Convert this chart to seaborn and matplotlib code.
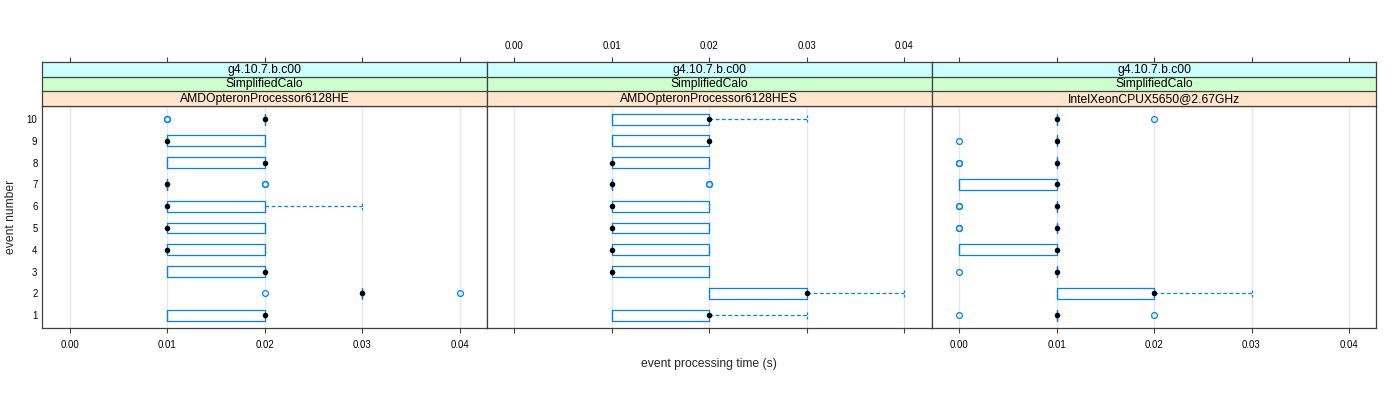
import numpy as np
import pandas as pd
import matplotlib
matplotlib.use("Agg")
import matplotlib.pyplot as plt
import seaborn as sns

# ---------------- data ----------------
times = [0.00, 0.01, 0.02, 0.03, 0.04]          # measured time bins (s)
events = [1, 2, 3, 4, 5, 6, 7, 8, 9, 10]
version = "g4.10.7.b.c00"
application = "SimplifiedCalo"
cpus = ["AMDOpteronProcessor6128HE", "AMDOpteronProcessor6128HES",
        "IntelXeonCPUX5650@2.67GHz"]

# number of repetitions per time bin, rows = event 1..10
counts_he = [
    [0, 3, 6, 0, 0],
    [0, 0, 1, 7, 1],
    [0, 3, 6, 0, 0],
    [0, 5, 4, 0, 0],
    [0, 5, 4, 0, 0],
    [0, 5, 3, 1, 0],
    [0, 7, 2, 0, 0],
    [0, 3, 6, 0, 0],
    [0, 5, 4, 0, 0],
    [0, 2, 7, 0, 0],
]
counts_hes = [
    [0, 3, 5, 1, 0],
    [0, 0, 3, 5, 1],
    [0, 5, 4, 0, 0],
    [0, 5, 4, 0, 0],
    [0, 5, 4, 0, 0],
    [0, 5, 4, 0, 0],
    [0, 7, 2, 0, 0],
    [0, 5, 4, 0, 0],
    [0, 3, 6, 0, 0],
    [0, 3, 5, 1, 0],
]
counts_intel = [
    [1, 7, 1, 0, 0],
    [0, 3, 5, 1, 0],
    [1, 8, 0, 0, 0],
    [3, 6, 0, 0, 0],
    [2, 7, 0, 0, 0],
    [2, 7, 0, 0, 0],
    [3, 6, 0, 0, 0],
    [2, 7, 0, 0, 0],
    [1, 8, 0, 0, 0],
    [0, 8, 1, 0, 0],
]
x_ticks = [0.00, 0.01, 0.02, 0.03, 0.04]
x_tick_labels = ["0.00", "0.01", "0.02", "0.03", "0.04"]

# ---------------- build long table ----------------
rows = []
for cpu, counts in zip(cpus, [counts_he, counts_hes, counts_intel]):
    for ev, c in zip(events, counts):
        for t in np.repeat(times, c):
            rows.append({"cpu": cpu, "event": str(ev), "time": float(t)})
df = pd.DataFrame(rows)

# ---------------- style ----------------
sns.set_theme(style="white")
plt.rcParams["font.family"] = ["Liberation Sans", "DejaVu Sans"]

BLUE = "#0080ff"
EDGE = "#404040"
STRIP_COLS = ["#ffe5cc", "#ccffcc", "#ccffff"]
LAB_FS = 8.7
TICK_FS = 6.9

W, H = 1400, 400
fig = plt.figure(figsize=(14, 4), dpi=100)
edges = [42.3, 487.0, 931.7, 1376.3]
p_top, p_bot = 106.0, 328.3
s_top = 62.3
order = [str(e) for e in events[::-1]]
xlim = (-0.0028, 0.0428)

box_kws = dict(
    x="time", y="event", order=order, orient="h",
    width=0.5, fill=False, color=BLUE, saturation=1, linewidth=0.9,
    whis=1.5,
    whiskerprops=dict(linestyle=(0, (3, 2)), color=BLUE, linewidth=0.9),
    capprops=dict(linestyle=(0, (2, 1.5)), color=BLUE, linewidth=0.9),
    medianprops=dict(visible=False),
    flierprops=dict(marker="o", markerfacecolor="none",
                    markeredgecolor=BLUE, markersize=4.2,
                    markeredgewidth=0.9),
)

for i, cpu in enumerate(cpus):
    left = edges[i] / W
    width = (edges[i + 1] - edges[i]) / W
    ax = fig.add_axes([left, 1 - p_bot / H, width, (p_bot - p_top) / H])
    sub = df[df["cpu"] == cpu]

    try:
        sns.boxplot(data=sub, ax=ax, capwidths=0.33, **box_kws)
    except TypeError:
        ax.cla()
        sns.boxplot(data=sub, ax=ax, **box_kws)
    sns.pointplot(
        data=sub, x="time", y="event", order=order, orient="h",
        estimator="median", errorbar=None, color="black",
        marker="o", linestyle="none", markersize=4, markeredgewidth=0,
        ax=ax,
    )

    ax.set_xlim(*xlim)
    ax.set_ylim(9.6, -0.6)
    ax.set_xlabel("")
    ax.set_ylabel("")
    ax.set_xticks(x_ticks)
    ax.set_xticklabels(x_tick_labels)
    ax.grid(axis="x", color="#e6e6e6", linewidth=1.0)
    ax.grid(axis="y", visible=False)
    ax.set_axisbelow(True)
    for sp in ax.spines.values():
        sp.set_color(EDGE)
        sp.set_linewidth(0.9)
    ax.tick_params(axis="x", bottom=True, length=3.6, width=0.8,
                   color=EDGE, labelsize=TICK_FS, pad=4.5,
                   labelbottom=(i != 1), labelcolor="black")
    if i == 0:
        ax.tick_params(axis="y", left=True, length=0, pad=3.5,
                       labelsize=TICK_FS, labelcolor="black")
    else:
        ax.tick_params(axis="y", left=False, labelleft=False)

    # strips
    sax = fig.add_axes([left, 1 - p_top / H, width, (p_top - s_top) / H])
    sax.set_xlim(*xlim)
    sax.set_ylim(0, 3)
    texts = [cpu, application, version]
    for k in range(3):
        sax.axhspan(k, k + 1, color=STRIP_COLS[k], linewidth=0, zorder=0)
        sax.text(0.5, (k + 0.5) / 3, texts[k], transform=sax.transAxes,
                 ha="center", va="center", fontsize=LAB_FS, color="black")
    for k in (1, 2):
        sax.axhline(k, color=EDGE, linewidth=0.9)
    for sp in sax.spines.values():
        sp.set_color(EDGE)
        sp.set_linewidth(0.9)
    sax.set_yticks([])
    sax.xaxis.tick_top()
    sax.set_xticks(x_ticks)
    sax.set_xticklabels(x_tick_labels)
    sax.tick_params(axis="x", top=True, bottom=False, length=3.6, width=0.8,
                    color=EDGE, labelsize=TICK_FS, pad=4.5,
                    labeltop=(i == 1), labelbottom=False, labelcolor="black")

fig.text(709 / W, 1 - 364 / H, "event processing time (s)",
         ha="center", va="center", fontsize=LAB_FS)
fig.text(11.5 / W, 1 - 217 / H, "event number", rotation=90,
         ha="center", va="center", fontsize=LAB_FS)

fig.savefig("out.png", dpi=100)
